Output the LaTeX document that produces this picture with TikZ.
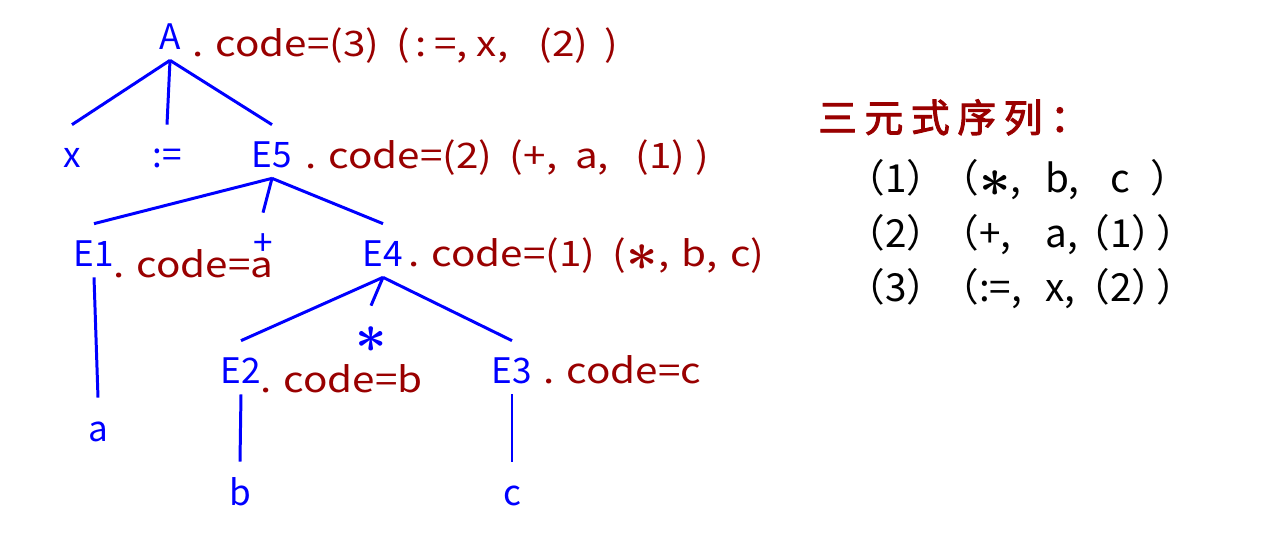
\documentclass[tikz,border=0pt]{standalone}
\usepackage{fontspec}
\setmainfont{Noto Sans CJK SC}
\newfontfamily\codefont[FakeStretch=1.15]{Noto Sans CJK SC}
\newfontfamily\titlefont[FakeBold=2.5,LetterSpace=20]{Noto Sans CJK SC}
\newcommand{\opstar}{\raisebox{-0.1em}{\scalebox{1.5}{\boldmath$\ast$}}}
\newcommand{\pgap}{\hspace{0.5em}}

\begin{document}
\begin{tikzpicture}[x=0.02cm,y=-0.02cm,
    treenode/.style={text=treeBlue, anchor=base, inner sep=0pt,
      text height=0.86cm, text depth=0.2cm, font=\fontsize{20}{24}\selectfont},
    codetext/.style={text=codeRed, anchor=base west, inner sep=0pt,
      font=\codefont\fontsize{20}{24}\selectfont},
    rowtext/.style={anchor=base west, inner sep=0pt, font=\fontsize{22}{26}\selectfont},
    branch/.style={draw=treeBlue, line width=1.7pt}]
    % Define colours
    \definecolor{treeBlue}{HTML}{0000FF}
    \definecolor{codeRed}{HTML}{990000}

  \useasboundingbox (0,0) rectangle (1262,557);

  % Parse tree
  \node[treenode] (A) at (170,50) {A};
  \node[treenode] (x) at (72,168) {x};
  \node[treenode] (assign) at (167,168) {:=};
  \node[treenode] (E5) at (272,168) {E5};
  \node[treenode] (E1) at (94,267) {E1};
  \node[treenode] (plus) at (263,256) {+};
  \node[treenode] (E4) at (383,267) {E4};
  \node[treenode] (E2) at (241,384) {E2};
  \node[treenode] (star) at (371,349) {\opstar};
  \node[treenode] (E3) at (512,384) {E3};
  \node[treenode] (a) at (98,441) {a};
  \node[treenode] (b) at (240,505) {b};
  \node[treenode] (c) at (512,505) {c};

  % Branches
  \foreach \p/\c in {A/x, A/assign, A/E5, E5/E1, E5/plus, E5/E4,
                     E1/a, E4/E2, E4/star, E4/E3, E2/b, E3/c}
    \draw[branch] (\p.south) -- (\c.north);

  % Attribute values
  \node[codetext] (A-code) at (192,57)
    {. code=(3)\pgap(\hspace{0.15em}:\hspace{0.2em}=, x, \hspace{0.6em}(2)\hspace{0.45em})};
  \node[codetext] (E5-code) at (305,169)
    {. code=(2)\pgap(+, \hspace{0.25em}a, \hspace{0.5em}(1)\hspace{0.3em})};
  \node[codetext] (E1-code) at (113,278) {. code=a};
  \node[codetext] (E4-code) at (408,267)
    {. code=(1)\pgap(\opstar, \hspace{0.1em}b, \hspace{0.1em}c)};
  \node[codetext] (E2-code) at (260,393) {. code=b};
  \node[codetext] (E3-code) at (543,384) {. code=c};

  % Triple list
  \node[anchor=base west, inner sep=0pt, text=codeRed, font=\titlefont\fontsize{22}{26}\selectfont]
    (title) at (818,132) {三元式序列：};
  \foreach \i/\y/\op/\fst/\snd in {1/193/{（\opstar,}/{b,}/{\phantom{（}c\hspace{0.55em}）},
                                   2/248/{（+,}/{a,}/{（1）\hspace{-0.35em}）},
                                   3/302/{（:=,}/{x,}/{（2）\hspace{-0.35em}）}} {
    \node[rowtext] (row\i-num) at (846,\y) {（\i）};
    \node[rowtext] (row\i-op) at (940,\y) {\op};
    \node[rowtext] (row\i-fst) at (1045,\y) {\fst};
    \node[rowtext] (row\i-snd) at (1071,\y) {\snd};
  }

\end{tikzpicture}
\end{document}
